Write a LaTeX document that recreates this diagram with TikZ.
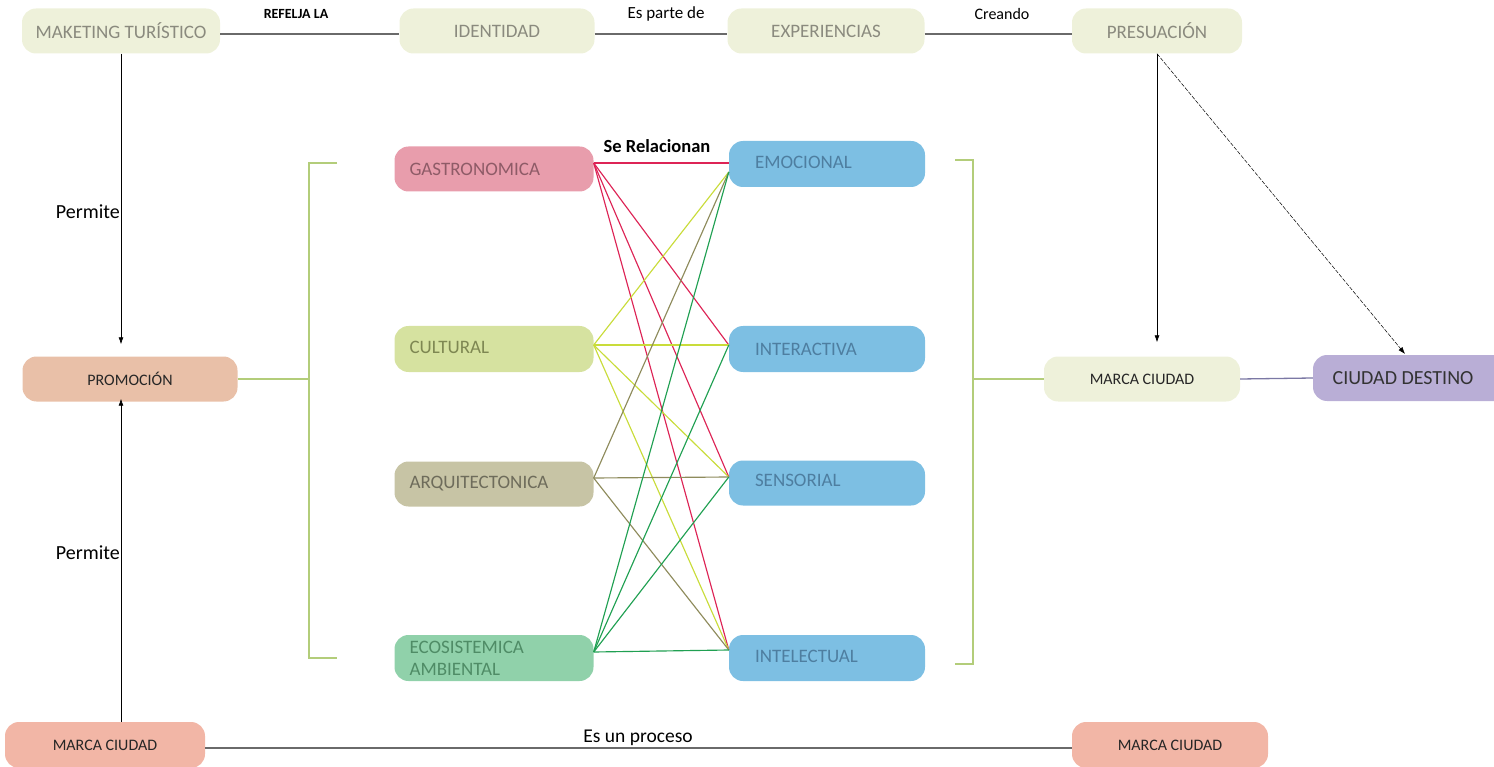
\documentclass[tikz,border=0pt]{standalone}
\usepackage{fontspec}
\setmainfont{Carlito}
\usetikzlibrary{arrows.meta,calc}
\definecolor{beige}{HTML}{EEF1DA}
\definecolor{topgray}{HTML}{8A8A7E}
\definecolor{promo}{HTML}{E9C0A8}
\definecolor{salmon}{HTML}{F2B6A6}
\definecolor{lav}{HTML}{B9AED6}
\definecolor{pink}{HTML}{E89DAC}
\definecolor{pinktxt}{HTML}{8E5B67}
\definecolor{cult}{HTML}{D6E2A0}
\definecolor{culttxt}{HTML}{7E8752}
\definecolor{arq}{HTML}{C7C4A5}
\definecolor{arqtxt}{HTML}{6E6C5B}
\definecolor{eco}{HTML}{90D1AA}
\definecolor{ecotxt}{HTML}{4F8C66}
\definecolor{blu}{HTML}{7DBFE3}
\definecolor{blutxt}{HTML}{4E7EA0}
\definecolor{lred}{HTML}{DD2456}
\definecolor{lyel}{HTML}{C9DC3A}
\definecolor{loli}{HTML}{8E8B5C}
\definecolor{lgrn}{HTML}{20A052}
\definecolor{brack}{HTML}{B3CD7A}
\definecolor{darkline}{HTML}{6A6A6A}
\definecolor{purpline}{HTML}{7B78A4}
\begin{document}
\begin{tikzpicture}[x=1pt,y=-1pt,
  box/.style={rounded corners=14pt, minimum height=45pt, inner sep=0pt},
  topbox/.style={box, fill=beige, text=topgray, font=\fontsize{19}{21}\selectfont},
  smallbox/.style={box, text=black!85, font=\fontsize{16}{18}\selectfont},
  leftbox/.style={box, minimum width=199pt, inner xsep=15pt, text width=169pt, align=left, font=\fontsize{19}{22}\selectfont},
  rightbox/.style={box, fill=blu, text=blutxt, minimum width=196pt, inner xsep=26pt, text width=144pt, align=left, font=\fontsize{19}{22}\selectfont},
  lbl/.style={text=black, inner sep=0pt},
  conn/.style={line width=1.15pt},
  arr/.style={-{Latex[length=7pt,width=5pt]}, line width=0.7pt, black}
]
\useasboundingbox (0,0) rectangle (1494,767);
\clip (0,0) rectangle (1494,767);

% top row
\node[topbox, minimum width=198pt] (mt) at (121,31) {MAKETING TURÍSTICO};
\node[topbox, minimum width=195pt] (id) at (497,31) {IDENTIDAD};
\node[topbox, minimum width=197pt] (ex) at (826,31) {EXPERIENCIAS};
\node[topbox, minimum width=170pt] (pr) at (1157,31) {PRESUACIÓN};

\draw[darkline, line width=1.8pt] ($(mt.east)+(0,3)$) -- ($(id.west)+(0,3)$);
\draw[darkline, line width=1.8pt] ($(id.east)+(0,3)$) -- ($(ex.west)+(0,3)$);
\draw[darkline, line width=1.8pt] ($(ex.east)+(0,3)$) -- ($(pr.west)+(0,3)$);
\node[lbl, font=\bfseries\fontsize{14}{16}\selectfont] (l1) at (296,14) {REFELJA LA};
\node[lbl, font=\fontsize{17}{18}\selectfont] (l2) at (666,14) {Es parte de};
\node[lbl, font=\fontsize{16}{17}\selectfont] (l3) at (1002,14) {Creando};

% left column
\node[smallbox, fill=promo, minimum width=215pt] (prom) at (130,379) {PROMOCIÓN};
\node[smallbox, fill=salmon, minimum width=200pt, minimum height=46pt] (mb1) at (105,745) {MARCA CIUDAD};
\node[smallbox, fill=salmon, minimum width=196pt, minimum height=46pt] (mb2) at (1170,745) {MARCA CIUDAD};
\coordinate (ax) at (121,0);
\draw[arr, shorten >=12pt] (mt.south -| ax) -- (prom.north -| ax);
\draw[arr, shorten >=-3pt] (mb1.north -| ax) -- (prom.south -| ax);
\node[lbl, anchor=east, font=\fontsize{20}{22}\selectfont] (p1) at (120,212) {Permite};
\node[lbl, anchor=east, font=\fontsize{20}{22}\selectfont] (p2) at (120,553) {Permite};

\draw[darkline, line width=2pt] ($(mb1.east)+(0,3)$) -- ($(mb2.west)+(0,3)$);
\node[lbl, font=\fontsize{19.5}{21}\selectfont] (pro) at (638,738) {Es un proceso};

% right column
\node[smallbox, fill=beige, minimum width=196pt] (mc) at (1142,379) {MARCA CIUDAD};
\node[box, fill=lav, text=black!80, minimum width=200pt, minimum height=46pt, font=\fontsize{20}{22}\selectfont, inner xsep=0pt] (cd) at (1413,378) {\hspace*{-20pt}CIUDAD DESTINO};
\draw[purpline, line width=1.3pt] (mc.east) -- (cd.west);
\draw[arr, shorten >=14pt] (pr.south) -- (pr.south |- mc.north);
\draw[arr, dashed, dash pattern=on 4pt off 1.5pt, line width=0.5pt] (pr.south) -- (1405,354);

% middle boxes
\node[leftbox, fill=pink, text=pinktxt] (gas) at (494,169) {GASTRONOMICA};
\node[leftbox, fill=cult, text=culttxt, minimum height=46pt] (cul) at (494,349) {\raisebox{3pt}{CULTURAL}};
\node[leftbox, fill=arq, text=arqtxt] (arqn) at (494,484) {ARQUITECTONICA};
\node[leftbox, fill=eco, text=ecotxt, minimum height=46pt] (econ) at (494,658) {ECOSISTEMICA\\AMBIENTAL};
\node[rightbox, minimum height=46pt] (emo) at (827,164) {\raisebox{3pt}{EMOCIONAL}};
\node[rightbox, minimum height=46pt] (int) at (827,349) {INTERACTIVA};
\node[rightbox] (sen) at (827,483) {\raisebox{5pt}{SENSORIAL}};
\node[rightbox, minimum height=46pt] (itl) at (827,658) {\raisebox{4pt}{INTELECTUAL}};

\node[lbl, font=\bfseries\fontsize{18.5}{20}\selectfont] (rel) at (657,146) {Se Relacionan};

\coordinate (g) at ($(gas.east)+(0,-6)$);
\coordinate (c) at ($(cul.east)+(0,-4)$);
\coordinate (a) at ($(arqn.east)+(0,-6)$);
\coordinate (e) at ($(econ.east)+(0,-6)$);
\coordinate (emh) at ($(emo.west)+(0,-1)$);
\coordinate (em) at ($(emo.west)+(0,8)$);
\coordinate (in) at ($(int.west)+(0,-4)$);
\coordinate (se) at ($(sen.west)+(0,-6)$);
\coordinate (it) at ($(itl.west)+(0,-8)$);

\draw[conn, lred] (g) -- (emh);
\draw[conn, lred] (g) -- (in);
\draw[conn, lred] (g) -- (se);
\draw[conn, lred] (g) -- (it);
\draw[conn, lyel] (c) -- (em);
\draw[conn, lyel] (c) -- (in);
\draw[conn, lyel] (c) -- (se);
\draw[conn, lyel] (c) -- (it);
\draw[conn, loli] (a) -- (em);
\draw[conn, loli] (a) -- (se);
\draw[conn, loli] (a) -- (it);
\draw[conn, lgrn] (e) -- (em);
\draw[conn, lgrn] (e) -- (in);
\draw[conn, lgrn] (e) -- (se);
\draw[conn, lgrn] (e) -- (it);

% brackets
\coordinate (bl) at (309,379);
\coordinate (br) at (973,379);
\draw[brack, line width=1.4pt] (337,163) -- (309,163) -- (309,658) -- (337,658);
\draw[brack, line width=1.4pt] (955,160) -- (973,160) -- (973,664) -- (955,664);
\draw[brack, line width=1.4pt] (prom.east) -- (bl);
\draw[brack, line width=1.4pt] (br) -- (mc.west);
\end{tikzpicture}
\end{document}
